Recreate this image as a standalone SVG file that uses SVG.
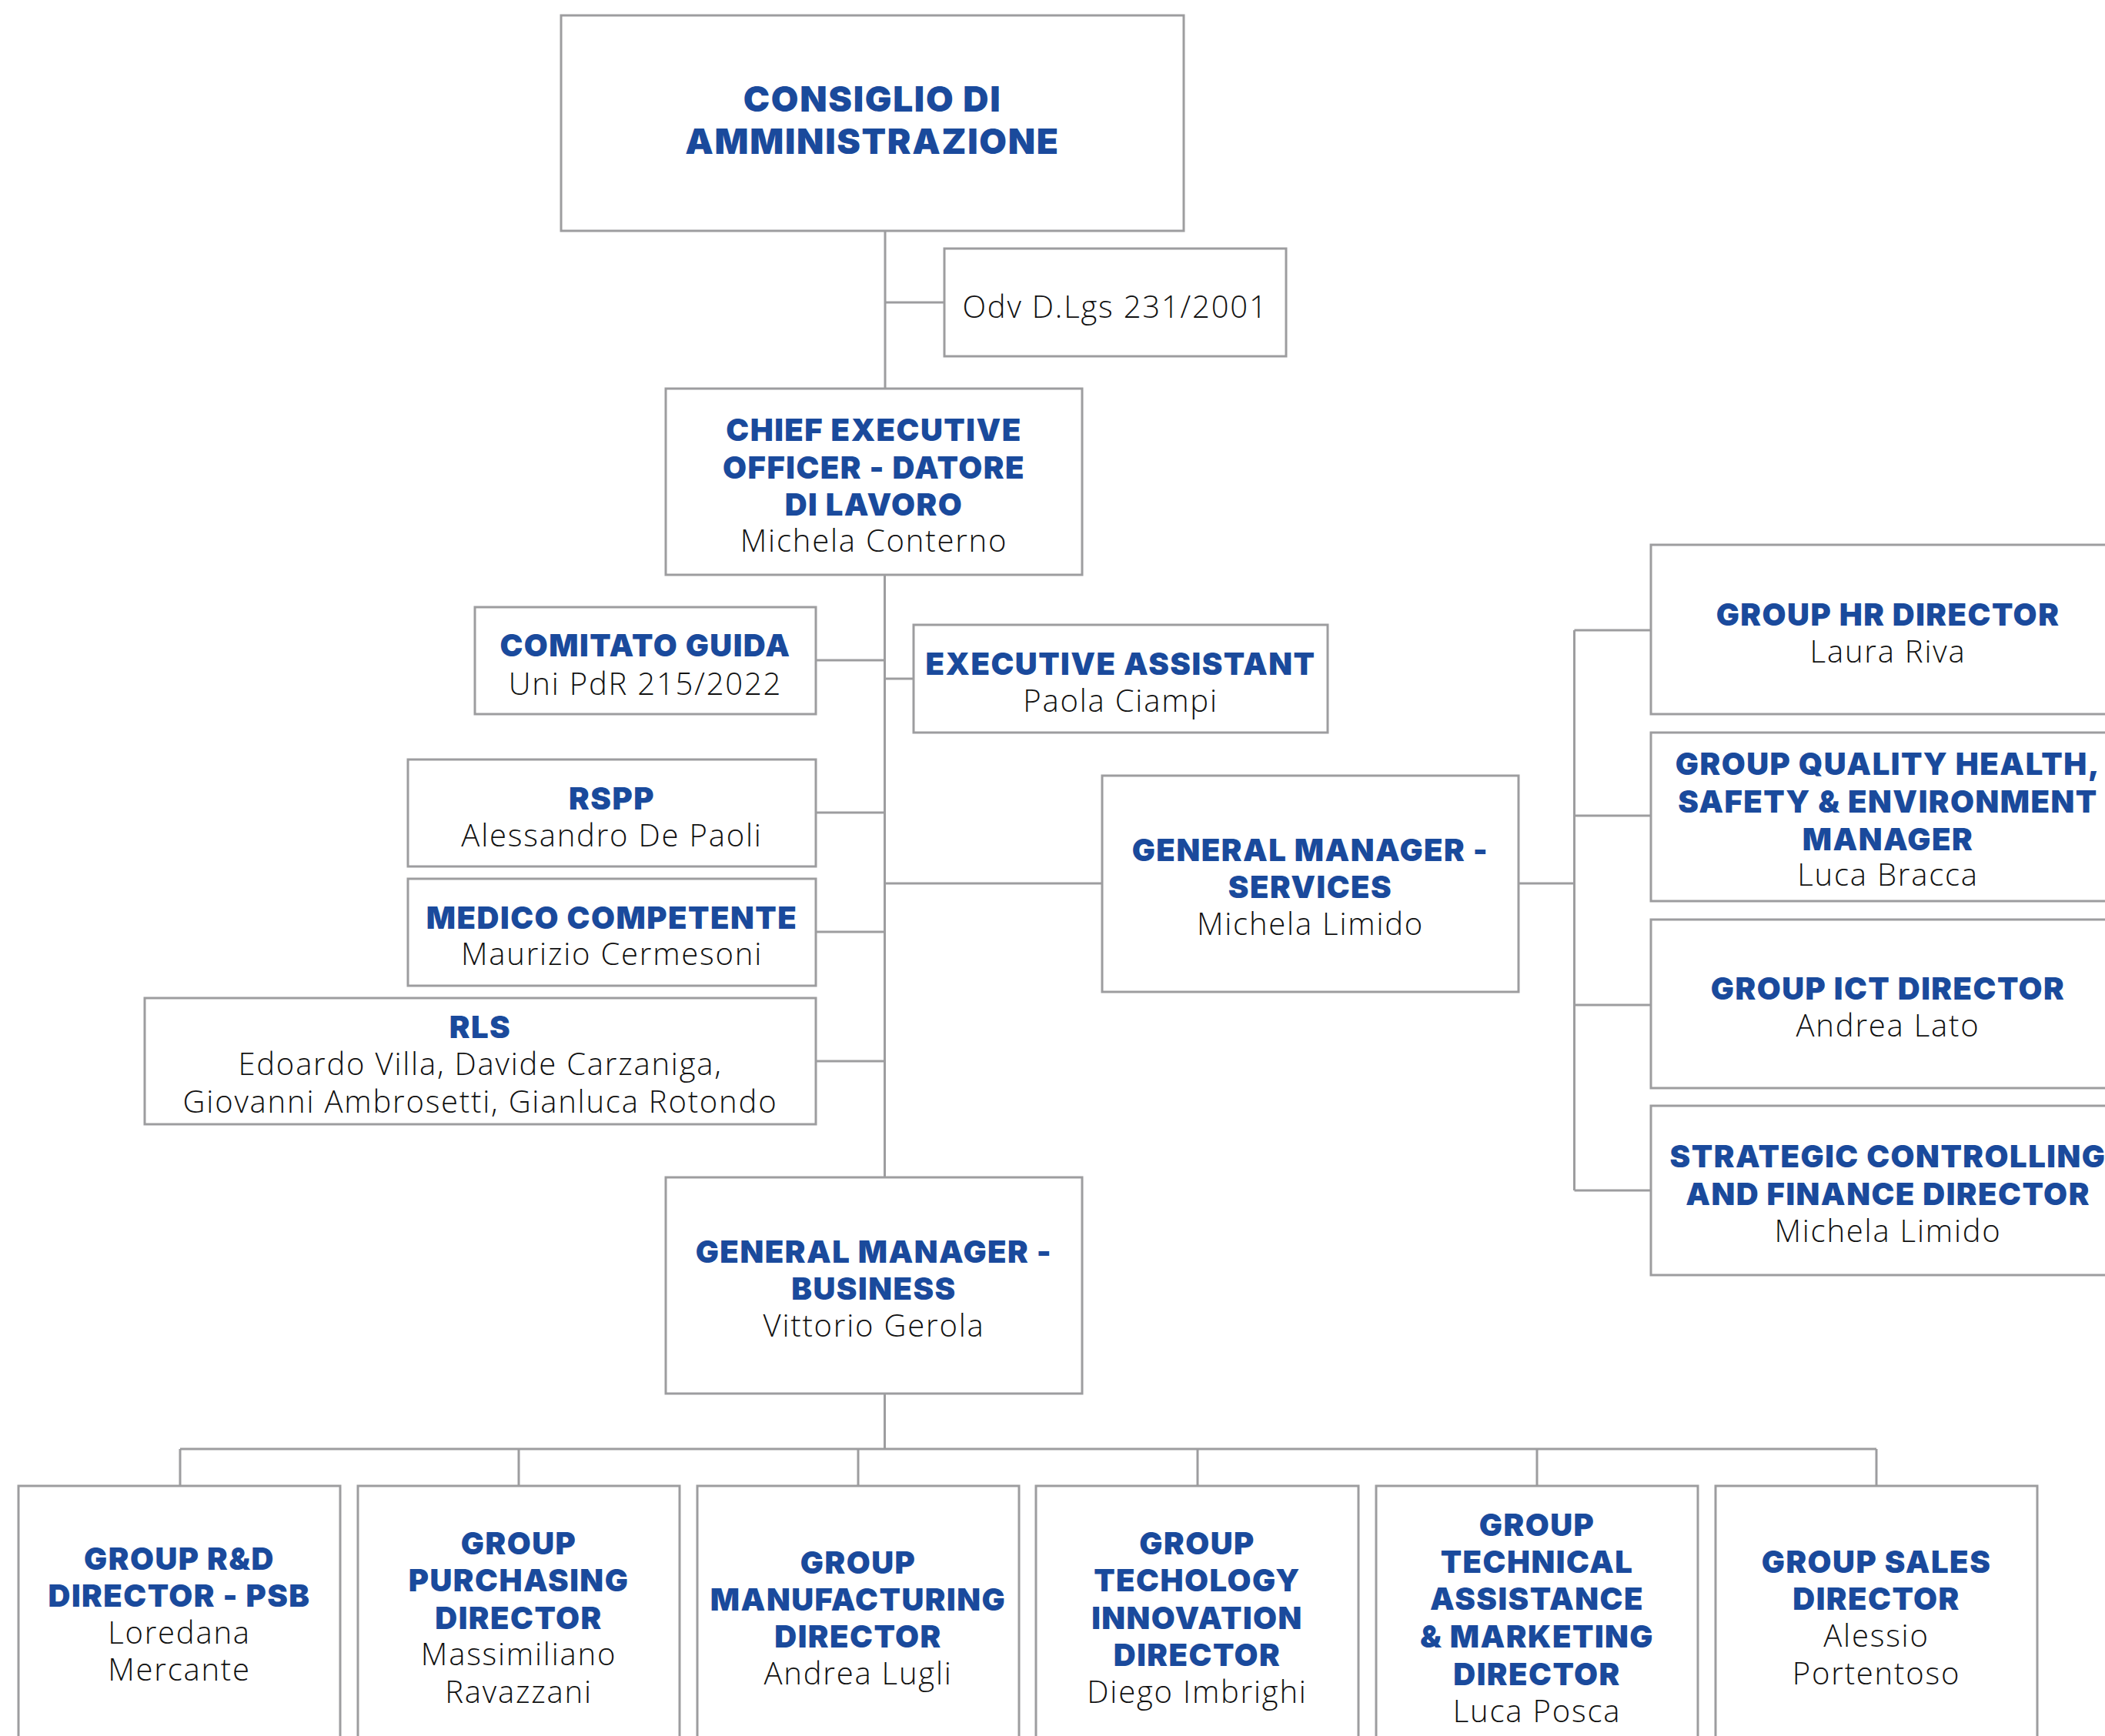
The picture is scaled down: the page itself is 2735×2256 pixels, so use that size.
<svg xmlns="http://www.w3.org/2000/svg" width="2735" height="2256" viewBox="0 0 2735 2256">
<style>
.box{fill:#fff;stroke:#9d9d9f;stroke-width:3}
.ln{fill:none;stroke:#9d9d9f;stroke-width:3}
.t{font-family:Inter,"Open Sans","Liberation Sans",sans-serif;font-weight:900;font-size:40px;letter-spacing:1.5px;fill:#1a4a9c;text-anchor:middle}
.n{font-family:"Open Sans","Liberation Sans",sans-serif;font-weight:300;font-size:40px;letter-spacing:1.8px;fill:#111;text-anchor:middle}
</style>
<rect width="2735" height="2256" fill="#fff"/>
<g id="connectors">
<path class="ln" d="M1150 300V505M1150 393H1227"/>
<path class="ln" d="M1149.5 747V1530M1060 858H1149.5M1149.5 882H1187M1060 1056H1149.5M1060 1211H1149.5M1060 1379H1149.5M1149.5 1148H1432"/>
<path class="ln" d="M1973 1148H2045.5M2045.5 819V1547M2045.5 819H2145M2045.5 1060H2145M2045.5 1306H2145M2045.5 1547H2145"/>
<path class="ln" d="M1149.5 1811V1883M234 1883H2438M234 1883V1931M674 1883V1931M1115 1883V1931M1556 1883V1931M1997 1883V1931M2438 1883V1931"/>
</g>
<g id="consiglio"><rect class="box" x="729" y="20" width="809" height="280"/>
<text class="t" style="font-size:46px;letter-spacing:1.7px" x="1133.5" y="145">CONSIGLIO DI</text>
<text class="t" style="font-size:46px;letter-spacing:1.7px" x="1133.5" y="200">AMMINISTRAZIONE</text></g>
<g id="odv"><rect class="box" x="1227" y="323" width="444" height="140"/>
<text class="n" x="1449" y="413">Odv D.Lgs 231/2001</text></g>
<g id="ceo"><rect class="box" x="865" y="505" width="541" height="242"/>
<text class="t" x="1135.5" y="573">CHIEF EXECUTIVE</text>
<text class="t" x="1135.5" y="622">OFFICER - DATORE</text>
<text class="t" x="1135.5" y="670">DI LAVORO</text>
<text class="n" x="1135.5" y="717">Michela Conterno</text></g>
<g id="comitato"><rect class="box" x="617" y="789" width="443" height="139"/>
<text class="t" x="838.5" y="853">COMITATO GUIDA</text>
<text class="n" x="838.5" y="903">Uni PdR 215/2022</text></g>
<g id="exec-assistant"><rect class="box" x="1187" y="812" width="538" height="140"/>
<text class="t" x="1456" y="877">EXECUTIVE ASSISTANT</text>
<text class="n" x="1456" y="925">Paola Ciampi</text></g>
<g id="rspp"><rect class="box" x="530" y="987" width="530" height="139"/>
<text class="t" x="795" y="1052">RSPP</text>
<text class="n" x="795" y="1100">Alessandro De Paoli</text></g>
<g id="medico"><rect class="box" x="530" y="1142" width="530" height="139"/>
<text class="t" x="795" y="1207">MEDICO COMPETENTE</text>
<text class="n" x="795" y="1254">Maurizio Cermesoni</text></g>
<g id="rls"><rect class="box" x="188" y="1297" width="872" height="164"/>
<text class="t" x="624" y="1349">RLS</text>
<text class="n" x="624" y="1397">Edoardo Villa, Davide Carzaniga,</text>
<text class="n" x="624" y="1446">Giovanni Ambrosetti, Gianluca Rotondo</text></g>
<g id="gm-services"><rect class="box" x="1432" y="1008" width="541" height="281"/>
<text class="t" x="1702.5" y="1119">GENERAL MANAGER -</text>
<text class="t" x="1702.5" y="1167">SERVICES</text>
<text class="n" x="1702.5" y="1215">Michela Limido</text></g>
<g id="hr"><rect class="box" x="2145" y="708" width="616" height="220"/>
<text class="t" x="2453" y="813">GROUP HR DIRECTOR</text>
<text class="n" x="2453" y="861">Laura Riva</text></g>
<g id="quality"><rect class="box" x="2145" y="952" width="616" height="219"/>
<text class="t" x="2453" y="1007">GROUP QUALITY HEALTH,</text>
<text class="t" x="2453" y="1056">SAFETY &amp; ENVIRONMENT</text>
<text class="t" x="2453" y="1105">MANAGER</text>
<text class="n" x="2453" y="1151">Luca Bracca</text></g>
<g id="ict"><rect class="box" x="2145" y="1195" width="616" height="219"/>
<text class="t" x="2453" y="1299">GROUP ICT DIRECTOR</text>
<text class="n" x="2453" y="1347">Andrea Lato</text></g>
<g id="strategic"><rect class="box" x="2145" y="1437" width="616" height="220"/>
<text class="t" x="2453" y="1517">STRATEGIC CONTROLLING</text>
<text class="t" x="2453" y="1566">AND FINANCE DIRECTOR</text>
<text class="n" x="2453" y="1614">Michela Limido</text></g>
<g id="gm-business"><rect class="box" x="865" y="1530" width="541" height="281"/>
<text class="t" x="1135.5" y="1641">GENERAL MANAGER -</text>
<text class="t" x="1135.5" y="1689">BUSINESS</text>
<text class="n" x="1135.5" y="1737">Vittorio Gerola</text></g>
<g id="rd"><rect class="box" x="24" y="1931" width="418" height="340"/>
<text class="t" x="233" y="2040">GROUP R&amp;D</text>
<text class="t" x="233" y="2088">DIRECTOR - PSB</text>
<text class="n" x="233" y="2136">Loredana</text>
<text class="n" x="233" y="2184">Mercante</text></g>
<g id="purchasing"><rect class="box" x="465" y="1931" width="418" height="340"/>
<text class="t" x="674" y="2020">GROUP</text>
<text class="t" x="674" y="2068">PURCHASING</text>
<text class="t" x="674" y="2117">DIRECTOR</text>
<text class="n" x="674" y="2164">Massimiliano</text>
<text class="n" x="674" y="2213">Ravazzani</text></g>
<g id="manufacturing"><rect class="box" x="906" y="1931" width="418" height="340"/>
<text class="t" x="1115" y="2045">GROUP</text>
<text class="t" x="1115" y="2093">MANUFACTURING</text>
<text class="t" x="1115" y="2141">DIRECTOR</text>
<text class="n" x="1115" y="2189">Andrea Lugli</text></g>
<g id="technology"><rect class="box" x="1346" y="1931" width="419" height="340"/>
<text class="t" x="1555.5" y="2020">GROUP</text>
<text class="t" x="1555.5" y="2068">TECHOLOGY</text>
<text class="t" x="1555.5" y="2117">INNOVATION</text>
<text class="t" x="1555.5" y="2165">DIRECTOR</text>
<text class="n" x="1555.5" y="2213">Diego Imbrighi</text></g>
<g id="technical"><rect class="box" x="1788" y="1931" width="418" height="340"/>
<text class="t" x="1997" y="1996">GROUP</text>
<text class="t" x="1997" y="2044">TECHNICAL</text>
<text class="t" x="1997" y="2092">ASSISTANCE</text>
<text class="t" x="1997" y="2141">&amp; MARKETING</text>
<text class="t" x="1997" y="2190">DIRECTOR</text>
<text class="n" x="1997" y="2238">Luca Posca</text></g>
<g id="sales"><rect class="box" x="2229" y="1931" width="418" height="340"/>
<text class="t" x="2438" y="2044">GROUP SALES</text>
<text class="t" x="2438" y="2092">DIRECTOR</text>
<text class="n" x="2438" y="2140">Alessio</text>
<text class="n" x="2438" y="2189">Portentoso</text></g>
</svg>
